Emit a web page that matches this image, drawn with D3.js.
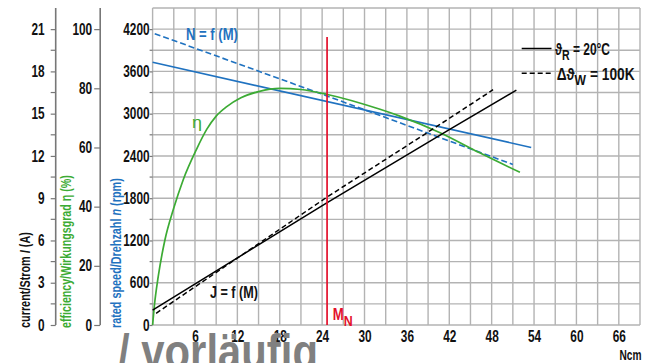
<!DOCTYPE html>
<html>
<head>
<meta charset="utf-8">
<script src="https://cdn.jsdelivr.net/npm/d3@7"></script>
<style>
  html, body { margin: 0; padding: 0; background: #fff; }
  svg text { font-family: "Liberation Sans", Arial, sans-serif; }
</style>
</head>
<body>
<svg id="chart" width="651" height="363"></svg>
<script>
// ---- data ----
const xTicks = [6, 12, 18, 24, 30, 36, 42, 48, 54, 60, 66];
const speedTicks = [0, 600, 1200, 1800, 2400, 3000, 3600, 4200];
const currentTicks = [0, 3, 6, 9, 12, 15, 18, 21];
const effTicks = [0, 20, 40, 60, 80, 100];

// speed n (rpm) vs torque M (Ncm)
const speed20 = [[0, 3730], [53.6, 2520]];
const speed100 = [[0.3, 4136], [24.6, 3255], [51.0, 2279]];
// current I (A) vs M
const current20 = [[0, 1.06], [24.6, 8.65], [42.3, 13.95], [51.5, 16.67]];
const current100 = [[0.5, 0.83], [24.6, 9.05], [40.2, 14.08], [48.2, 16.7]];
// efficiency (%) vs M
const effM = [0, 0.25, 0.8, 1.75, 2.93, 4.35, 6.2, 7.66, 9, 10.5, 12.5, 15, 18, 21, 24.6, 32.2, 35, 40.7, 46.3, 52];
const effV = [0, 6.5, 16.4, 28.8, 39, 49.2, 59.3, 66.1, 70.6, 73.8, 76.8, 78.9, 80, 79.6, 78.0, 72.9, 70.6, 65, 58.2, 51.6];
const ratedTorque = 24.7;

// ---- layout ----
const svg = d3.select("#chart");
const L = 152.6, R = 640, T = 8, B = 325;
const x = d3.scaleLinear().domain([0, 69]).range([L, R]);
const yN = d3.scaleLinear().domain([0, 4500]).range([B, T]);
const yI = d3.scaleLinear().domain([0, 22.5]).range([B, T]);
const yE = d3.scaleLinear().domain([0, 4500 / 42]).range([B, T]);

const gridColor = "#b3b3b3";
const blue = "#1f72c0", green = "#3cab34", red = "#e3102b", ink = "#111";
const SX = 0.74; // horizontal condensing for the narrow typeface

function condense(sel, s) {
  sel.each(function () {
    const t = d3.select(this);
    const tx = +t.attr("x") || 0, ty = +t.attr("y") || 0;
    t.attr("x", 0).attr("y", 0).attr("transform", `translate(${tx},${ty}) scale(${s},1)`);
  });
}
function fitText(g, tx, ty, width, anchor, build, rotate) {
  const grp = g.append("g").attr("transform", `translate(${tx},${ty})` + (rotate ? ` rotate(${rotate})` : ""));
  const t = grp.append("text").attr("text-anchor", anchor || "start");
  build(t);
  const w = t.node().getComputedTextLength();
  t.attr("transform", `scale(${width / w},1)`);
  return t;
}

// grid
const grid = svg.append("g");
grid.selectAll("line.v").data(d3.range(0, 70, 3)).join("line")
  .attr("x1", d => x(d)).attr("x2", d => x(d)).attr("y1", T).attr("y2", B)
  .attr("stroke", gridColor).attr("stroke-width", 1.4);
grid.selectAll("line.h").data(d3.range(0, 4501, 300)).join("line")
  .attr("x1", L).attr("x2", R).attr("y1", d => yN(d)).attr("y2", d => yN(d))
  .attr("stroke", gridColor).attr("stroke-width", 1.4);

function styleAxis(g) {
  g.selectAll(".domain").remove();
  g.selectAll(".tick line").attr("stroke", "#777").attr("stroke-width", 1.2);
  g.selectAll(".tick text").attr("fill", ink).attr("font-size", 16).attr("font-weight", "bold")
    .style("font-family", '"Liberation Sans", Arial, sans-serif');
  condense(g.selectAll(".tick text"), SX);
}
// speed axis (at plot left edge)
const gN = svg.append("g").attr("transform", `translate(${L},0)`)
  .call(d3.axisLeft(yN).tickValues(speedTicks).tickSize(3).tickPadding(0).tickFormat(d3.format("d")));
styleAxis(gN);
svg.append("g").selectAll("line").data(d3.range(300, 4500, 600)).join("line")
  .attr("x1", L - 3).attr("x2", L).attr("y1", d => yN(d)).attr("y2", d => yN(d))
  .attr("stroke", "#777").attr("stroke-width", 1.2);

// efficiency axis
const effX = 100.2;
svg.append("line").attr("x1", effX).attr("x2", effX).attr("y1", T).attr("y2", B)
  .attr("stroke", "#777").attr("stroke-width", 1.6);
const gE = svg.append("g").attr("transform", `translate(${effX},0)`)
  .call(d3.axisLeft(yE).tickValues(effTicks).tickSize(6).tickPadding(2));
styleAxis(gE);

// current axis
const curX = 55.7;
svg.append("line").attr("x1", curX).attr("x2", curX).attr("y1", T).attr("y2", B)
  .attr("stroke", "#777").attr("stroke-width", 1.6);
const gI = svg.append("g").attr("transform", `translate(${curX},0)`)
  .call(d3.axisLeft(yI).tickValues(currentTicks).tickSize(5).tickPadding(6));
styleAxis(gI);
svg.append("g").selectAll("line").data(d3.range(1.5, 22.5, 3)).join("line")
  .attr("x1", curX - 5).attr("x2", curX).attr("y1", d => yI(d)).attr("y2", d => yI(d))
  .attr("stroke", "#777").attr("stroke-width", 1.2);

// x axis labels
const gX = svg.append("g").attr("transform", `translate(0,${B})`)
  .call(d3.axisBottom(x).tickValues(xTicks).tickSize(0).tickPadding(6));
styleAxis(gX);

// axis titles (rotated, starting at the bottom)
function vTitle(cx, len, color, parts) {
  fitText(svg, cx, 328, len, "start", t => {
    t.attr("fill", color).attr("font-size", 14).attr("font-weight", "bold").attr("dy", "0.35em");
    parts.forEach(p => t.append("tspan").text(p[0]).attr("font-style", p[1] ? "italic" : null));
  }, -90);
}
vTitle(25, 96, ink, [["current/Strom ", false], ["I", true], [" (A)", false]]);
vTitle(66, 153, green, [["efficiency/Wirkungsgrad η (%)", false]]);
vTitle(116, 150, blue, [["rated speed/Drehzahl ", false], ["n", true], [" (rpm)", false]]);

// curves
const lineN = d3.line().x(d => x(d[0])).y(d => yN(d[1]));
const lineI = d3.line().x(d => x(d[0])).y(d => yI(d[1]));
const lineE = d3.line().x(d => x(d[0])).y(d => yE(d[1])).curve(d3.curveMonotoneX);
const effData = effM.map((m, i) => [m, effV[i]]);

svg.append("path").attr("d", lineN(speed100)).attr("fill", "none").attr("stroke", blue)
  .attr("stroke-width", 1.6).attr("stroke-dasharray", "6,3");
svg.append("path").attr("d", lineN(speed20)).attr("fill", "none").attr("stroke", blue).attr("stroke-width", 1.7);
svg.append("path").attr("d", lineE(effData)).attr("fill", "none").attr("stroke", green).attr("stroke-width", 1.7);
svg.append("path").attr("d", lineI(current100)).attr("fill", "none").attr("stroke", "#000")
  .attr("stroke-width", 1.5).attr("stroke-dasharray", "5,3");
svg.append("path").attr("d", lineI(current20)).attr("fill", "none").attr("stroke", "#000").attr("stroke-width", 1.5);

// rated torque line
svg.append("line").attr("x1", x(ratedTorque)).attr("x2", x(ratedTorque)).attr("y1", 37).attr("y2", B)
  .attr("stroke", red).attr("stroke-width", 1.7);
fitText(svg, 332.7, 320, 20, "start", t => {
  t.attr("fill", red).attr("font-size", 16).attr("font-weight", "bold");
  t.append("tspan").text("M");
  t.append("tspan").text("N").attr("dy", 6).attr("font-size", 15);
});

// curve labels
fitText(svg, 186, 40, 52, "start", t => t.attr("fill", blue).attr("font-size", 16).attr("font-weight", "bold").text("N = f (M)"));
fitText(svg, 192, 128, 10, "start", t => t.attr("fill", green).attr("font-size", 17).text("η"));
fitText(svg, 210, 298, 48, "start", t => t.attr("fill", ink).attr("font-size", 16).attr("font-weight", "bold").text("J = f (M)"));

// legend
svg.append("line").attr("x1", 521.7).attr("x2", 551.5).attr("y1", 48.5).attr("y2", 48.5)
  .attr("stroke", "#000").attr("stroke-width", 1.5);
svg.append("line").attr("x1", 521.7).attr("x2", 551.5).attr("y1", 73.3).attr("y2", 73.3)
  .attr("stroke", "#000").attr("stroke-width", 1.5).attr("stroke-dasharray", "5,3");
fitText(svg, 555, 55, 55, "start", t => {
  t.attr("fill", ink).attr("font-size", 17).attr("font-weight", "bold");
  t.append("tspan").text("ϑ");
  t.append("tspan").text("R").attr("dy", 5).attr("font-size", 15);
  t.append("tspan").text(" = 20°C").attr("dy", -5);
});
fitText(svg, 556.7, 80, 78, "start", t => {
  t.attr("fill", ink).attr("font-size", 17).attr("font-weight", "bold");
  t.append("tspan").text("Δϑ");
  t.append("tspan").text("W").attr("dy", 5).attr("font-size", 15);
  t.append("tspan").text(" = 100K").attr("dy", -5);
});

// unit
fitText(svg, 619.5, 360, 22, "start", t => t.attr("fill", ink).attr("font-size", 15).attr("font-weight", "bold").text("Ncm"));

// watermark
svg.append("text").attr("x", 118).attr("y", 369).attr("fill", "#808080")
  .attr("font-size", 50).attr("font-weight", "bold")
  .attr("textLength", 200).attr("lengthAdjust", "spacingAndGlyphs")
  .text("/ vorläufig");
</script>
</body>
</html>
